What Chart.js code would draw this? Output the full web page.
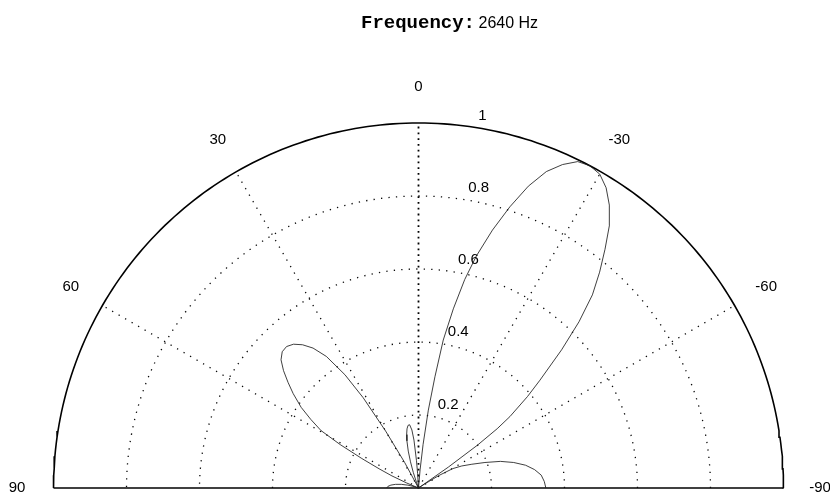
<!DOCTYPE html>
<html>
<head>
<meta charset="utf-8">
<script src="https://cdn.jsdelivr.net/npm/chart.js@4/dist/chart.umd.min.js"></script>
<style>
  html, body { margin: 0; padding: 0; background: #ffffff; }
  canvas { display: block; }
</style>
</head>
<body>
<canvas id="polar" width="830" height="494"></canvas>
<script>
// Title pieces
const titleLabel = 'Frequency:';
const titleValue = '2640 Hz';

// Angular ticks (degrees, 0 at the top, positive to the left)
const angleTicks = [90, 60, 30, 0, -30, -60, -90];
const spokeAngles = [60, 30, -30, -60];
const centerSpoke = 0;

// Radial ticks (normalised magnitude)
const radialTicks = [0.2, 0.4, 0.6, 0.8, 1];

// Beam pattern: angle (deg) and normalised magnitude
const patternAngles = [
  -90, -87, -84, -81, -78, -75, -72, -69, -66, -63, -60.5, -58.5, -57, -56,
  -55, -54, -53, -52, -50, -48.4, -46, -44, -42, -40, -38, -36, -34, -32, -30,
  -28, -26, -24, -22, -20, -18, -16, -14, -12.5, -11, -9.5, -8.4, -7.2, -6, -5, -4.3,
  2.5, 3.5, 4.2, 5.4, 6.5, 8, 9.5, 11, 12.5, 13.8, 15.5, 17, 18.5, 20, 21,
  27, 28.5, 30, 31.5, 33, 35, 37, 39, 41, 43, 45, 47, 49, 51, 53, 55.5, 57.5,
  59.5, 61, 62.5, 64, 65.5, 67, 68.5,
  72, 75, 78, 81, 84, 87, 90
];
const patternMagnitudes = [
  0.349, 0.345, 0.338, 0.322, 0.300, 0.270, 0.236, 0.195, 0.160, 0.133, 0.108, 0.065, 0.020, 0,
  0.10, 0.20, 0.27, 0.318, 0.39, 0.445, 0.545, 0.633, 0.712, 0.772, 0.83, 0.89, 0.935, 0.97, 0.993,
  1.0, 0.995, 0.97, 0.935, 0.88, 0.81, 0.735, 0.655, 0.585, 0.50, 0.411, 0.308, 0.215, 0.12, 0.05, 0,
  0, 0.04, 0.075, 0.132, 0.16, 0.175, 0.174, 0.165, 0.15, 0.133, 0.105, 0.075, 0.045, 0.015, 0,
  0, 0.08, 0.18, 0.29, 0.37, 0.44, 0.48, 0.505, 0.522, 0.53, 0.528, 0.515, 0.49, 0.46, 0.43, 0.39, 0.35,
  0.31, 0.245, 0.175, 0.12, 0.08, 0.035, 0,
  0.012, 0.03, 0.048, 0.064, 0.076, 0.084, 0.087
];

// polar (deg, r) -> cartesian, 0 deg pointing up, angles growing to the left
function toXY(deg, r) {
  const t = deg * Math.PI / 180;
  return { x: -r * Math.sin(t), y: r * Math.cos(t) };
}
function arcPoints(r) {
  const pts = [];
  for (let a = -90; a <= 90; a += 1) pts.push(toXY(a, r));
  return pts;
}

const dotted = { borderColor: '#0a0a0a', borderWidth: 1.3, borderDash: [1.3, 6.2] };
const datasets = [];

datasets.push({
  label: 'pattern',
  data: patternAngles.map((a, i) => toXY(a, patternMagnitudes[i])),
  borderColor: '#1e1e1e', borderWidth: 0.85, tension: 0
});

radialTicks.filter(r => r < 1).forEach(r => {
  datasets.push(Object.assign({ label: 'ring ' + r, data: arcPoints(r) }, dotted));
});
spokeAngles.forEach(a => {
  datasets.push(Object.assign({ label: 'spoke ' + a, data: [toXY(a, 0), toXY(a, 1)] }, dotted));
});
datasets.push({
  label: 'spoke 0',
  data: [toXY(centerSpoke, 0), toXY(centerSpoke, 1)],
  borderColor: '#000000', borderWidth: 1.8, borderDash: [1.8, 4.0]
});
datasets.push({
  label: 'outer',
  data: arcPoints(radialTicks[radialTicks.length - 1]),
  borderColor: '#000000', borderWidth: 1.6
});
datasets.push({
  label: 'base',
  data: [toXY(90, 1), toXY(-90, 1)],
  borderColor: '#000000', borderWidth: 1.6
});
datasets.forEach(d => { d.showLine = true; d.pointRadius = 0; d.fill = false; d.clip = false; });

const labelsPlugin = {
  id: 'polarLabels',
  afterDraw(chart) {
    const ctx = chart.ctx;
    const xs = chart.scales.x, ys = chart.scales.y;
    const px = p => ({ x: xs.getPixelForValue(p.x), y: ys.getPixelForValue(p.y) });
    ctx.save();
    ctx.fillStyle = '#000000';
    // angle labels
    ctx.font = '15px "Liberation Sans", Arial, sans-serif';
    ctx.textAlign = 'center';
    ctx.textBaseline = 'middle';
    angleTicks.forEach(a => {
      const p = px(toXY(a, 1.1));
      ctx.fillText(String(a), p.x, p.y);
    });
    // radial labels
    ctx.textAlign = 'left';
    ctx.textBaseline = 'alphabetic';
    radialTicks.forEach(r => {
      const p = px(toXY(-8, r));
      ctx.fillText(String(r), p.x + 9, p.y - 7);
    });
    // title
    ctx.font = 'bold 19px "Liberation Mono", "Courier New", monospace';
    ctx.fillText(titleLabel, 361, 27.5);
    ctx.font = '16px "Liberation Sans", Arial, sans-serif';
    ctx.fillText(titleValue, 478.5, 27.5);
    ctx.restore();
  }
};

new Chart(document.getElementById('polar'), {
  type: 'scatter',
  data: { datasets },
  options: {
    responsive: false,
    maintainAspectRatio: false,
    animation: false,
    layout: { padding: { left: 53.5, right: 46.5, top: 123, bottom: 6 } },
    plugins: { legend: { display: false }, tooltip: { enabled: false }, title: { display: false } },
    scales: {
      x: { type: 'linear', min: -1, max: 1, display: false },
      y: { type: 'linear', min: 0, max: 1, display: false }
    }
  },
  plugins: [labelsPlugin]
});
</script>
</body>
</html>
